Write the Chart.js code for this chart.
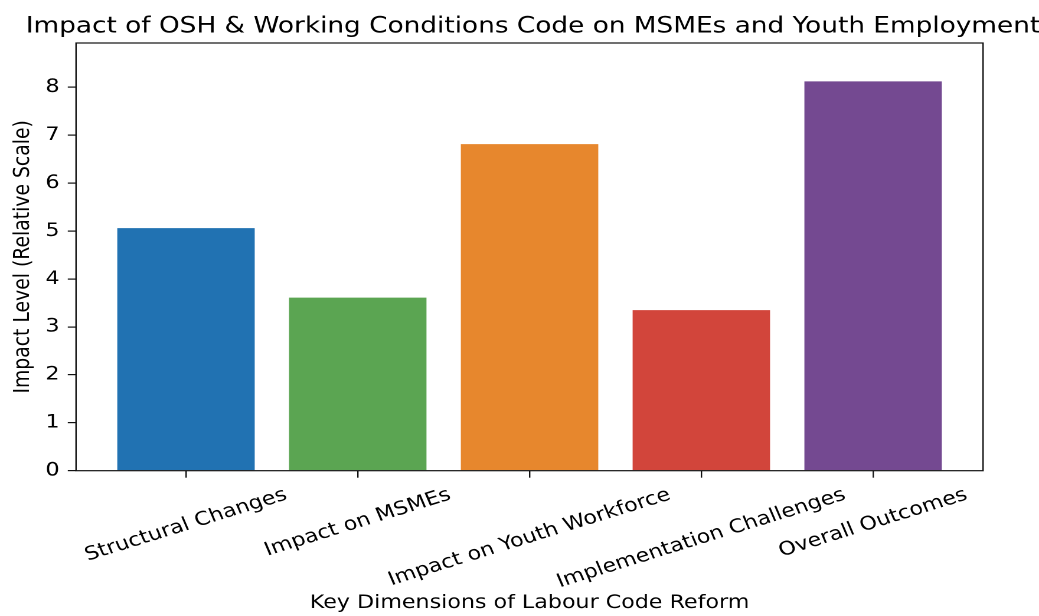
<!DOCTYPE html>
<html>
<head>
<meta charset="utf-8">
<script src="https://cdn.jsdelivr.net/npm/chart.js@4.4.1/dist/chart.umd.min.js"></script>
<style>
  html, body { margin: 0; padding: 0; background: #fff; overflow: hidden; }
  /* the reference picture is stretched sideways, so the chart is drawn narrow and widened */
  #wrap { width: 880px; height: 616px; transform: scaleX(1.1807); transform-origin: 0 0; }
  #chart { width: 880px; height: 616px; display: block; }
</style>
</head>
<body>
<div id="wrap"><canvas id="chart" width="880" height="616"></canvas></div>
<script>
// data
const categories = ['Structural Changes', 'Impact on MSMEs', 'Impact on Youth Workforce', 'Implementation Challenges', 'Overall Outcomes']
const impactValues = [5.06, 3.61, 6.81, 3.35, 8.12]
const barColors = ['#2172b2', '#5ba552', '#e7872d', '#d2453b', '#744991']
const yTicks = [0, 1, 2, 3, 4, 5, 6, 7, 8]

const titleText = 'Impact of OSH & Working Conditions Code on MSMEs and Youth Employment'
const FONT = '"DejaVu Sans", sans-serif'
const LABEL_SIZE = 18.8

Chart.defaults.font.family = FONT
Chart.defaults.color = '#000'

// frame, title and the rotated (centred) x labels
const extras = {
  id: 'extras',
  afterDraw(chart) {
    const ctx = chart.ctx
    const area = chart.chartArea
    const xs = chart.scales.x
    ctx.save()

    // box around the plot
    ctx.strokeStyle = '#111'
    ctx.lineWidth = 1.2
    ctx.strokeRect(area.left, area.top, area.right - area.left, area.bottom - area.top)

    // title (runs just off the right edge like the original)
    ctx.fillStyle = '#000'
    ctx.font = '22.3px ' + FONT
    ctx.textAlign = 'center'
    ctx.textBaseline = 'alphabetic'
    ctx.fillText(titleText, (area.left + area.right) / 2 + 2.9, 32.5)

    // category labels, rotated 20deg, centred under the tick
    const ang = 20 * Math.PI / 180
    const h = 22
    const top = area.bottom + 7 + 6.3
    ctx.font = LABEL_SIZE + 'px ' + FONT
    ctx.textBaseline = 'middle'
    categories.forEach((label, i) => {
      const px = xs.getPixelForValue(i)
      const w = ctx.measureText(label).width
      const H = w * Math.sin(ang) + h * Math.cos(ang)
      ctx.save()
      ctx.translate(px, top + H / 2)
      ctx.rotate(-ang)
      ctx.fillText(label, 0, 0)
      ctx.restore()
    })
    ctx.restore()
  }
}

const impactChart = new Chart(document.getElementById('chart'), {
  type: 'bar',
  data: {
    datasets: [{
      data: impactValues.map((v, i) => ({ x: i, y: v })),
      backgroundColor: barColors,
      borderWidth: 0,
      barPercentage: 1.0,
      categoryPercentage: 0.8
    }]
  },
  options: {
    responsive: false,
    animation: false,
    devicePixelRatio: 2,
    layout: { padding: { top: 43, right: 47.4, left: 0, bottom: 0 } },
    plugins: {
      legend: { display: false },
      tooltip: { enabled: false },
      title: { display: false }
    },
    scales: {
      x: {
        type: 'linear',
        min: -0.64,
        max: 4.64,
        offset: false,
        grid: { offset: false, drawOnChartArea: false, drawTicks: true, tickLength: 7, color: '#111', lineWidth: 1.2 },
        border: { display: false },
        ticks: { display: false },
        afterBuildTicks: (scale) => { scale.ticks = categories.map((c, i) => ({ value: i })) },
        afterFit: (scale) => { scale.height = 145.3 },
        title: {
          display: true,
          text: 'Key Dimensions of Labour Code Reform',
          font: { size: LABEL_SIZE },
          color: '#000',
          padding: { top: 0, bottom: 1.7 }
        }
      },
      y: {
        min: 0,
        max: 8.92,
        grid: { drawOnChartArea: false, drawTicks: true, tickLength: 7, color: '#111', lineWidth: 1.2 },
        border: { display: false },
        ticks: { font: { size: LABEL_SIZE }, color: '#000', padding: 7 },
        afterBuildTicks: (scale) => { scale.ticks = yTicks.map(v => ({ value: v })) },
        afterFit: (scale) => { scale.width = 64.4 },
        title: {
          display: true,
          text: 'Impact Level (Relative Scale)',
          font: { size: LABEL_SIZE },
          color: '#000',
          padding: { top: 8.5, bottom: 0 }
        }
      }
    }
  },
  plugins: [extras]
})
</script>
</body>
</html>
